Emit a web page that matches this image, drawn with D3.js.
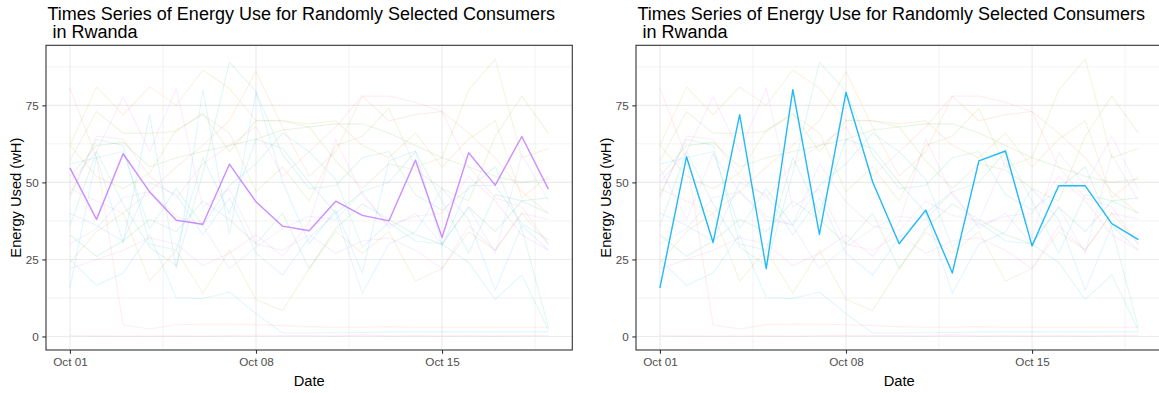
<!DOCTYPE html>
<html><head><meta charset="utf-8">
<script src="https://cdn.jsdelivr.net/npm/d3@7"></script>
<style>
body{margin:0;background:#fff}
text{font-family:"Liberation Sans",Arial,sans-serif}
</style>
</head><body>
<svg id="chart" width="1159" height="393"></svg>
<script>
// ---------- data ----------
const dates = ["2020-10-01","2020-10-02","2020-10-03","2020-10-04","2020-10-05","2020-10-06","2020-10-07",
  "2020-10-08","2020-10-09","2020-10-10","2020-10-11","2020-10-12","2020-10-13","2020-10-14",
  "2020-10-15","2020-10-16","2020-10-17","2020-10-18","2020-10-19"];
const consumers = ["C01","C02","C03","C04","C05","C06","C07","C08","C09","C10",
  "C11","C12","C13","C14","C15","C16","C17","C18","C19","C20"];
const colors = ["#F8766D","#EA8331","#D89000","#C09B00","#A3A500","#7CAE00","#39B600","#00BB4E","#00BF7D","#00C1A3",
  "#00BFC4","#00BAE0","#00B0F6","#35A2FF","#9590FF","#C77CFF","#E76BF3","#FA62DB","#FF62BC","#FF6C91"];
const s01 = [80.5,58,3.8,2.4,3.8,4,4,3.8,3.5,3.2,3,3,3.2,3,3,3,3,3,3];
const s02 = [48,44,40,47,55,62,70,86,68,52,60,78,70,72,73,66,58,47,40];
const s03 = [62,81,72,81,75,86.5,80.5,70,70,69,70,62,58,66,55,64,70,45,52];
const s04 = [24,34,40,18,28,14,28,12,8.4,22,34,27,34,18,22,34,28,40,30];
const s05 = [62,52,48,53,67,72,66,47,55,44,62,65,74,55,58,80,90,58,61];
const s06 = [57,73,66,66,66.5,72.5,60,70,70,68,57,48,56,54,48,44,65,78,66];
const s07 = [52,62,63,55,58,60,62,64,67,68,69,69,66,62,58,55,52,50,51];
const s08 = [33,26,31,38,34,44,38,30,40,22,35,43,38,33,30,42,34,44,45];
const s09 = [36,60,43,29,23,53,89,79.5,59,48,49,58,60,46,41,48,55,35,3];
const s10 = [46,64,62,30,28,58,40,64,61,50,40,47,50,60,44,27,46,44,40];
const s11 = [56,58,60,35,48,36,49,56,66,60,51,29,37,31,30,24,12,20,2];
const s12 = [25,16.6,20.6,33,12.5,12.3,14.4,7.4,1.1,1.1,1.2,1.3,1.5,1.5,1.5,1.5,1.5,1.5,1.5];
const s13 = [15.8,58.3,30.5,72.0,22.0,80.1,33.1,79.2,50.2,30.1,41.0,20.6,57.0,60.2,29.4,48.9,48.9,36.6,31.4];
const s14 = [40,36,31,50,46,33,45,27,20,32,40,14,30,34,48,38,15,36,28];
const s15 = [30,35,45,47,39,36,22,29,35,39,38,47,35,40,30,42,27,59,44];
const s16 = [54.7,38.0,59.3,46.9,37.7,36.4,55.9,43.7,35.8,34.3,43.9,39.3,37.5,57.2,32.1,59.6,49.1,64.9,47.8];
const s17 = [50,60,77.8,60,80.5,42,48,30,28,33,27,31,32,28,22,36,28,40,38];
const s18 = [22,25,28,32,30,23,27,33,26,37,64,46,36,39,40,52,44,33,28];
const s19 = [0.3,0.2,0.1,0.2,0.2,0.1,0.3,0.4,0.3,0.3,0.2,0.5,0.2,0.3,0.2,0.3,0.2,0.3,0.3];
const s20 = [45,65,64,52,45,56,62,68,52,60,68,78,78,76,73,55,45,42,30];
const seriesValues = [s01,s02,s03,s04,s05,s06,s07,s08,s09,s10,s11,s12,s13,s14,s15,s16,s17,s18,s19,s20];
const highlighted = [15, 12];      // consumer index highlighted in each panel
const xTickDates = ["2020-10-01","2020-10-08","2020-10-15"];
const xTickLabels = ["Oct 01","Oct 08","Oct 15"];
const yTicks = [0,25,50,75];
const titleLines = ["Times Series of Energy Use for Randomly Selected Consumers"," in Rwanda"];
const xTitle = "Date";
const yTitle = "Energy Used (wH)";

// ---------- drawing ----------
const parse = d3.timeParse("%Y-%m-%d");
const dateObjs = dates.map(parse);
const svg = d3.select("#chart");

const panelOffsets = [0, 590];
const plotL = 46, plotR = 572.3, plotT = 45.3, plotB = 350;

const dayMs = 864e5;
const xExtent = d3.extent(dateObjs);
const xPad = (xExtent[1] - xExtent[0]) * 0.05;
const allVals = seriesValues.flat();
const yExt = d3.extent(allVals);
const yPad = (yExt[1] - yExt[0]) * 0.05;

const x = d3.scaleTime().domain([new Date(+xExtent[0] - xPad), new Date(+xExtent[1] + xPad)]).range([plotL, plotR]);
const y = d3.scaleLinear().domain([yExt[0] - yPad, yExt[1] + yPad]).range([plotB, plotT]);

const xMinor = xTickDates.map(d => new Date(+parse(d) + 3.5 * dayMs));
const yMinor = [12.5, 37.5, 62.5, 87.5];

const line = d3.line().x((d, i) => x(dateObjs[i])).y(d => y(d));

panelOffsets.forEach((off, p) => {
  const g = svg.append("g").attr("transform", `translate(${off},0)`);

  g.append("rect").attr("x", plotL).attr("y", plotT).attr("width", plotR - plotL).attr("height", plotB - plotT).attr("fill", "#fff");

  const clipId = "clip" + p;
  g.append("clipPath").attr("id", clipId).append("rect")
    .attr("x", plotL).attr("y", plotT).attr("width", plotR - plotL).attr("height", plotB - plotT);

  // grid
  const grid = g.append("g");
  grid.selectAll(".vminor").data(xMinor).join("line")
    .attr("x1", d => x(d)).attr("x2", d => x(d)).attr("y1", plotT).attr("y2", plotB)
    .attr("stroke", "#EBEBEB").attr("stroke-width", 0.6);
  grid.selectAll(".hminor").data(yMinor).join("line")
    .attr("y1", d => y(d)).attr("y2", d => y(d)).attr("x1", plotL).attr("x2", plotR)
    .attr("stroke", "#EBEBEB").attr("stroke-width", 0.6);
  grid.selectAll(".vmajor").data(xTickDates).join("line")
    .attr("x1", d => x(parse(d))).attr("x2", d => x(parse(d))).attr("y1", plotT).attr("y2", plotB)
    .attr("stroke", "#EBEBEB").attr("stroke-width", 1.1);
  grid.selectAll(".hmajor").data(yTicks).join("line")
    .attr("y1", d => y(d)).attr("y2", d => y(d)).attr("x1", plotL).attr("x2", plotR)
    .attr("stroke", "#EBEBEB").attr("stroke-width", 1.1);

  const lines = g.append("g").attr("clip-path", `url(#${clipId})`);
  lines.selectAll(".faint").data(seriesValues).join("path")
    .attr("d", d => line(d)).attr("fill", "none")
    .attr("stroke", (d, i) => colors[i]).attr("stroke-opacity", 0.12).attr("stroke-width", 1.1);
  const h = highlighted[p];
  lines.append("path").attr("d", line(seriesValues[h])).attr("fill", "none")
    .attr("stroke", colors[h]).attr("stroke-opacity", 0.85).attr("stroke-width", 1.4).attr("stroke-linejoin", "round");

  // border
  g.append("rect").attr("x", plotL).attr("y", plotT).attr("width", plotR - plotL).attr("height", plotB - plotT)
    .attr("fill", "none").attr("stroke", "#333333").attr("stroke-width", 1.1);

  // axes
  const xAxis = d3.axisBottom(x).tickValues(xTickDates.map(parse))
    .tickFormat((d, i) => xTickLabels[i]).tickSizeOuter(0).tickSizeInner(3.7).tickPadding(3.5);
  const xg = g.append("g").attr("transform", `translate(0,${plotB})`).call(xAxis);
  xg.select(".domain").remove();
  xg.selectAll(".tick line").attr("stroke", "#333333").attr("stroke-width", 1.1);
  xg.selectAll(".tick text").attr("fill", "#4D4D4D").attr("font-size", "11.7px")
    .attr("font-family", '"Liberation Sans",Arial,sans-serif');

  const yAxis = d3.axisLeft(y).tickValues(yTicks).tickSizeOuter(0).tickSizeInner(3.7).tickPadding(3.5);
  const yg = g.append("g").attr("transform", `translate(${plotL},0)`).call(yAxis);
  yg.select(".domain").remove();
  yg.selectAll(".tick line").attr("stroke", "#333333").attr("stroke-width", 1.1);
  yg.selectAll(".tick text").attr("fill", "#4D4D4D").attr("font-size", "11.7px")
    .attr("font-family", '"Liberation Sans",Arial,sans-serif');

  // titles
  const t = g.append("text").attr("x", plotL + 1.5).attr("font-size", "18px").attr("fill", "#000")
    .style("white-space", "pre");
  titleLines.forEach((l, i) => {
    t.append("tspan").attr("x", plotL + 1.5).attr("y", 19.8 + i * 18).text(l);
  });

  g.append("text").attr("x", (plotL + plotR) / 2).attr("y", 386).attr("text-anchor", "middle")
    .attr("font-size", "14.7px").attr("fill", "#000").text(xTitle);
  g.append("text").attr("transform", `translate(20.5,${(plotT + plotB) / 2}) rotate(-90)`)
    .attr("text-anchor", "middle").attr("font-size", "14.7px").attr("fill", "#000").text(yTitle);
});
</script>
</body></html>
